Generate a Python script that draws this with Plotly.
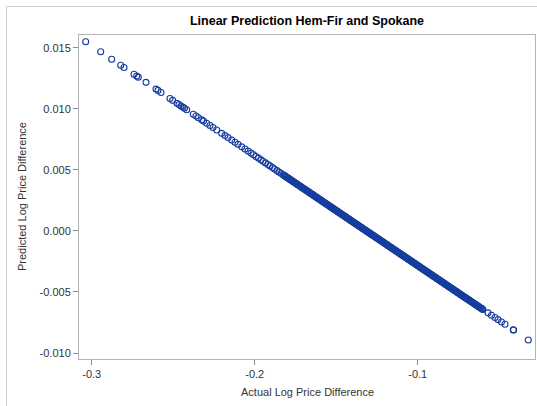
import plotly.graph_objects as go

# ---- data ----
actual_left = [-0.30368, -0.29448, -0.28773, -0.28221, -0.28018, -0.27405, -0.27239, -0.27141,
               -0.26669, -0.26055, -0.25933, -0.25748, -0.25196, -0.25031, -0.24767, -0.24644,
               -0.24521, -0.24399, -0.24307, -0.24172, -0.23767, -0.23601, -0.23448, -0.23252,
               -0.23141, -0.22945, -0.22742, -0.22558, -0.22331, -0.22025, -0.21822, -0.21638,
               -0.21411, -0.21209, -0.21025, -0.20798, -0.20595, -0.20411, -0.20227, -0.20074,
               -0.19920, -0.19767, -0.19613, -0.19491, -0.19337, -0.19184, -0.19061, -0.18908,
               -0.18785, -0.18632, -0.18509, -0.18387, -0.18264]
pred_left = [0.015494, 0.014666, 0.014059, 0.013563, 0.013380, 0.012829, 0.012679, 0.012591,
             0.012166, 0.011614, 0.011504, 0.011338, 0.010841, 0.010693, 0.010455, 0.010345,
             0.010234, 0.010124, 0.010042, 0.009920, 0.009556, 0.009407, 0.009269, 0.009093,
             0.008993, 0.008816, 0.008634, 0.008468, 0.008264, 0.007989, 0.007806, 0.007641,
             0.007436, 0.007255, 0.007089, 0.006885, 0.006702, 0.006537, 0.006371, 0.006234,
             0.006095, 0.005957, 0.005819, 0.005709, 0.005571, 0.005433, 0.005322, 0.005185,
             0.005074, 0.004936, 0.004826, 0.004716, 0.004605]

actual_mid = [-0.182, -0.181, -0.180, -0.179, -0.178, -0.177, -0.176, -0.175, -0.174, -0.173,
              -0.172, -0.171, -0.170, -0.169, -0.168, -0.167, -0.166, -0.165, -0.164, -0.163,
              -0.162, -0.161, -0.160, -0.159, -0.158, -0.157, -0.156, -0.155, -0.154, -0.153,
              -0.152, -0.151, -0.150, -0.149, -0.148, -0.147, -0.146, -0.145, -0.144, -0.143,
              -0.142, -0.141, -0.140, -0.139, -0.138, -0.137, -0.136, -0.135, -0.134, -0.133,
              -0.132, -0.131, -0.130, -0.129, -0.128, -0.127, -0.126, -0.125, -0.124, -0.123,
              -0.122, -0.121, -0.120, -0.119, -0.118, -0.117, -0.116, -0.115, -0.114, -0.113,
              -0.112, -0.111, -0.110, -0.109, -0.108, -0.107, -0.106, -0.105, -0.104, -0.103,
              -0.102, -0.101, -0.100, -0.099, -0.098, -0.097, -0.096, -0.095, -0.094, -0.093,
              -0.092, -0.091, -0.090, -0.089, -0.088, -0.087, -0.086, -0.085, -0.084, -0.083,
              -0.082, -0.081, -0.080, -0.079, -0.078, -0.077, -0.076, -0.075, -0.074, -0.073,
              -0.072, -0.071, -0.070, -0.069, -0.068, -0.067, -0.066, -0.065, -0.064, -0.063,
              -0.062, -0.061, -0.060]
pred_mid = [0.004548, 0.004458, 0.004368, 0.004278, 0.004188, 0.004098, 0.004008, 0.003918,
            0.003828, 0.003738, 0.003648, 0.003558, 0.003468, 0.003378, 0.003288, 0.003198,
            0.003108, 0.003018, 0.002928, 0.002838, 0.002748, 0.002658, 0.002568, 0.002478,
            0.002388, 0.002298, 0.002208, 0.002118, 0.002028, 0.001938, 0.001848, 0.001758,
            0.001668, 0.001578, 0.001488, 0.001398, 0.001308, 0.001218, 0.001128, 0.001038,
            0.000948, 0.000858, 0.000768, 0.000678, 0.000588, 0.000498, 0.000408, 0.000318,
            0.000228, 0.000138, 0.000048, -0.000042, -0.000132, -0.000222, -0.000312, -0.000402,
            -0.000492, -0.000582, -0.000672, -0.000762, -0.000852, -0.000942, -0.001032, -0.001122,
            -0.001212, -0.001302, -0.001392, -0.001482, -0.001572, -0.001662, -0.001752, -0.001842,
            -0.001932, -0.002022, -0.002112, -0.002202, -0.002292, -0.002382, -0.002472, -0.002562,
            -0.002652, -0.002742, -0.002832, -0.002922, -0.003012, -0.003102, -0.003192, -0.003282,
            -0.003372, -0.003462, -0.003552, -0.003642, -0.003732, -0.003822, -0.003912, -0.004002,
            -0.004092, -0.004182, -0.004272, -0.004362, -0.004452, -0.004542, -0.004632, -0.004722,
            -0.004812, -0.004902, -0.004992, -0.005082, -0.005172, -0.005262, -0.005352, -0.005442,
            -0.005532, -0.005622, -0.005712, -0.005802, -0.005892, -0.005982, -0.006072, -0.006162,
            -0.006252, -0.006342, -0.006430]

actual_mid2 = [-0.1815, -0.1805, -0.1795, -0.1785, -0.1775, -0.1765, -0.1755, -0.1745, -0.1735, -0.1725,
               -0.1715, -0.1705, -0.1695, -0.1685, -0.1675, -0.1665, -0.1655, -0.1645, -0.1635, -0.1625,
               -0.1615, -0.1605, -0.1595, -0.1585, -0.1575, -0.1565, -0.1555, -0.1545, -0.1535, -0.1525,
               -0.1515, -0.1505, -0.1495, -0.1485, -0.1475, -0.1465, -0.1455, -0.1445, -0.1435, -0.1425,
               -0.1415, -0.1405, -0.1395, -0.1385, -0.1375, -0.1365, -0.1355, -0.1345, -0.1335, -0.1325,
               -0.1315, -0.1305, -0.1295, -0.1285, -0.1275, -0.1265, -0.1255, -0.1245, -0.1235, -0.1225,
               -0.1215, -0.1205, -0.1195, -0.1185, -0.1175, -0.1165, -0.1155, -0.1145, -0.1135, -0.1125,
               -0.1115, -0.1105, -0.1095, -0.1085, -0.1075, -0.1065, -0.1055, -0.1045, -0.1035, -0.1025,
               -0.1015, -0.1005, -0.0995, -0.0985, -0.0975, -0.0965, -0.0955, -0.0945, -0.0935, -0.0925,
               -0.0915, -0.0905, -0.0895, -0.0885, -0.0875, -0.0865, -0.0855, -0.0845, -0.0835, -0.0825,
               -0.0815, -0.0805, -0.0795, -0.0785, -0.0775, -0.0765, -0.0755, -0.0745, -0.0735, -0.0725,
               -0.0715, -0.0705, -0.0695, -0.0685, -0.0675, -0.0665, -0.0655, -0.0645, -0.0635, -0.0625,
               -0.0615, -0.0605]
pred_mid2 = [0.004503, 0.004413, 0.004323, 0.004233, 0.004143, 0.004053, 0.003963, 0.003873,
             0.003783, 0.003693, 0.003603, 0.003513, 0.003423, 0.003333, 0.003243, 0.003153,
             0.003063, 0.002973, 0.002883, 0.002793, 0.002703, 0.002613, 0.002523, 0.002433,
             0.002343, 0.002253, 0.002163, 0.002073, 0.001983, 0.001893, 0.001803, 0.001713,
             0.001623, 0.001533, 0.001443, 0.001353, 0.001263, 0.001173, 0.001083, 0.000993,
             0.000903, 0.000813, 0.000723, 0.000633, 0.000543, 0.000453, 0.000363, 0.000273,
             0.000183, 0.000093, 0.000003, -0.000087, -0.000177, -0.000267, -0.000357, -0.000447,
             -0.000537, -0.000627, -0.000717, -0.000807, -0.000897, -0.000987, -0.001077, -0.001167,
             -0.001257, -0.001347, -0.001437, -0.001527, -0.001617, -0.001707, -0.001797, -0.001887,
             -0.001977, -0.002067, -0.002157, -0.002247, -0.002337, -0.002427, -0.002517, -0.002607,
             -0.002697, -0.002787, -0.002877, -0.002967, -0.003057, -0.003147, -0.003237, -0.003327,
             -0.003417, -0.003507, -0.003597, -0.003687, -0.003777, -0.003867, -0.003957, -0.004047,
             -0.004137, -0.004227, -0.004317, -0.004407, -0.004497, -0.004587, -0.004677, -0.004767,
             -0.004857, -0.004947, -0.005037, -0.005127, -0.005217, -0.005307, -0.005397, -0.005487,
             -0.005577, -0.005667, -0.005757, -0.005847, -0.005937, -0.006027, -0.006117, -0.006207,
             -0.006297, -0.006387]

actual_right = [-0.05687, -0.05472, -0.05258, -0.05074, -0.04859, -0.04644, -0.04135, -0.04120, -0.03215]
pred_right = [-0.006709, -0.006902, -0.007095, -0.007260, -0.007454, -0.007647, -0.008105, -0.008119, -0.008933]

actual = actual_left + actual_mid + actual_mid2 + actual_right
predicted = pred_left + pred_mid + pred_mid2 + pred_right

x_tickvals = [-0.3, -0.2, -0.1]
x_ticktext = ["-0.3", "-0.2", "-0.1"]
y_tickvals = [0.015, 0.010, 0.005, 0.000, -0.005, -0.010]
y_ticktext = ["0.015", "0.010", "0.005", "0.000", "-0.005", "-0.010"]

title_text = "Linear Prediction Hem-Fir and Spokane"
x_title = "Actual Log Price Difference"
y_title = "Predicted Log Price Difference"

# ---- figure ----
W, H = 537, 406
L, R, T, B = 79, 2, 35, 47
pw, ph = W - L - R, H - T - B

fig = go.Figure(go.Scatter(
    x=actual, y=predicted, mode="markers",
    marker=dict(symbol="circle-open", size=6, color="#163d9e", line=dict(width=1.1)),
    showlegend=False, hoverinfo="x+y",
))

font = "Liberation Sans, Arial, sans-serif"
axis_common = dict(showgrid=False, zeroline=False, showline=True, mirror=True,
                   linecolor="#b4b4b4", linewidth=1, ticks="outside", ticklen=5,
                   tickcolor="#8c8c8c", tickwidth=1, automargin=False,
                   tickfont=dict(family=font, size=11, color="#333333"))

fig.update_xaxes(range=[-0.30779, -0.02804], tickvals=x_tickvals, ticktext=x_ticktext, **axis_common)
fig.update_yaxes(range=[-0.010488, 0.016042], tickvals=y_tickvals, ticktext=y_ticktext, **axis_common)

# axis titles as annotations placed in pixel terms
fig.add_annotation(text=x_title, xref="paper", yref="paper",
                   x=(307 - L) / pw, y=-(392 - (H - B)) / ph, xanchor="center", yanchor="middle",
                   showarrow=False, font=dict(family=font, size=11, color="#333333"))
fig.add_annotation(text=y_title, xref="paper", yref="paper", textangle=-90,
                   x=(22 - L) / pw, y=1 - (197 - T) / ph, xanchor="center", yanchor="middle",
                   showarrow=False, font=dict(family=font, size=11, color="#333333"))

# outer light-gray frame (top and left edges)
fx0 = (6.5 - L) / pw
fy0 = 1 + (T - 6.5) / ph
fig.add_shape(type="line", xref="paper", yref="paper", layer="above", x0=fx0, x1=(W - L) / pw, y0=fy0, y1=fy0,
              line=dict(color="#cfcfcf", width=1))
fig.add_shape(type="line", xref="paper", yref="paper", layer="above", x0=fx0, x1=fx0, y0=fy0, y1=-B / ph,
              line=dict(color="#cfcfcf", width=1))

fig.update_layout(
    width=W, height=H,
    margin=dict(l=L, r=R, t=T, b=B, autoexpand=False),
    paper_bgcolor="white", plot_bgcolor="white",
    title=dict(text="<b>" + title_text + "</b>", x=(L + pw / 2) / W, xanchor="center",
               y=1 - 21 / H, yanchor="middle",
               font=dict(family=font, size=12.5, color="#000000")),
)

fig.write_html("out.html", config={"displayModeBar": False},
               post_script="document.body.style.margin='0px';document.body.style.overflow='hidden';")
